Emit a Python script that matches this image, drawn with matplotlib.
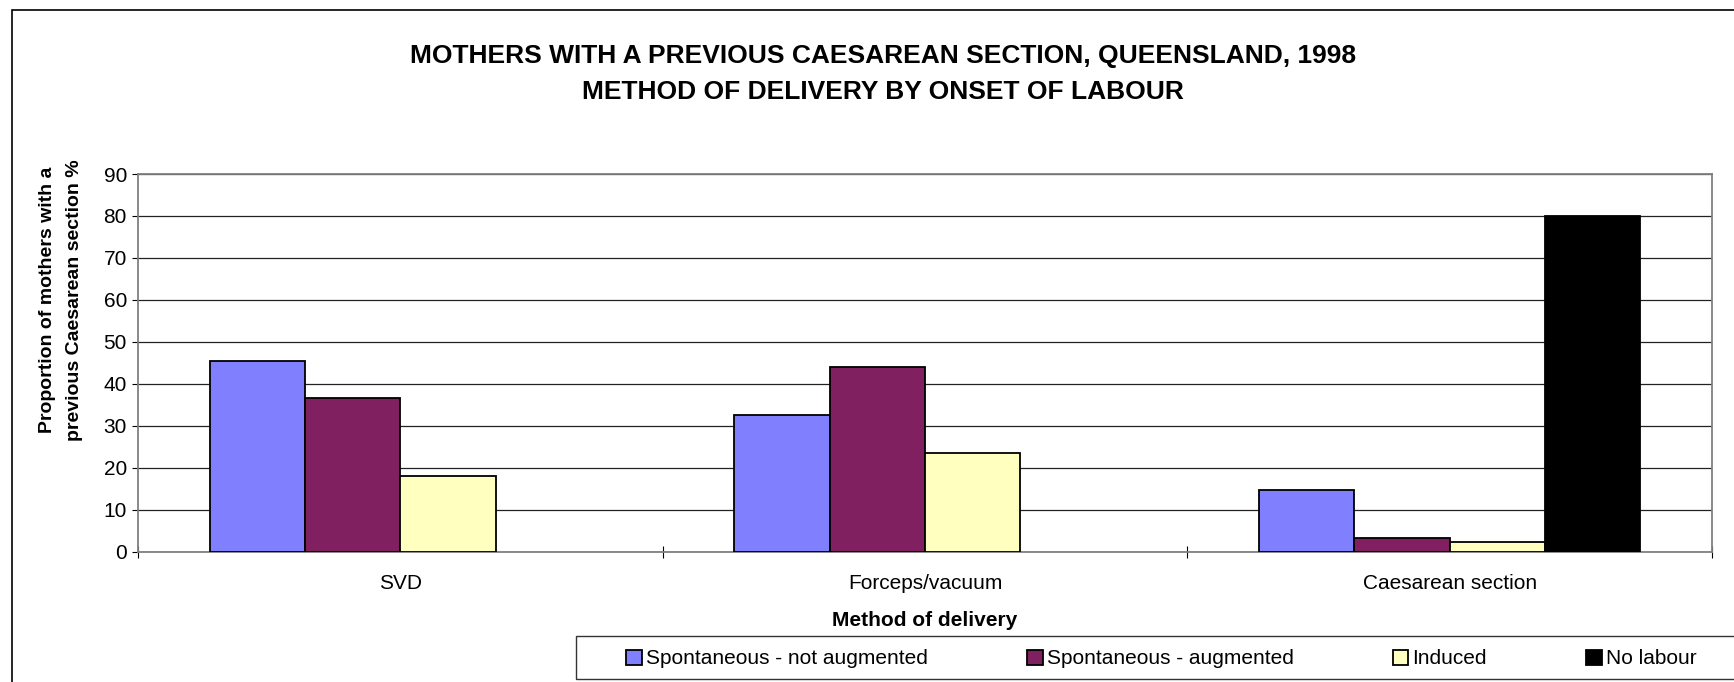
import numpy as np
import matplotlib
matplotlib.use("Agg")
import matplotlib.pyplot as plt
from matplotlib.patches import Rectangle

plt.rcParams['font.family'] = ['Liberation Sans', 'DejaVu Sans']

categories = ["SVD", "Forceps/vacuum", "Caesarean section"]
series_names = ["Spontaneous - not augmented", "Spontaneous - augmented", "Induced", "No labour"]
spont_not_aug = [45.3, 32.5, 14.7]
spont_aug = [36.5, 44.1, 3.3]
induced = [18.0, 23.6, 2.3]
no_labour = [0.0, 0.0, 80.0]
colors = ["#8080FF", "#802060", "#FFFFC0", "#000000"]

W, H = 1734, 682
fig = plt.figure(figsize=(W / 100, H / 100), dpi=100)

# plot area in pixel coordinates of the reference
left, right, top, bottom = 138, 1712, 174, 551.5
ax = fig.add_axes([left / W, 1 - bottom / H, (right - left) / W, (bottom - top) / H])

x = np.arange(len(categories))
width = 0.1816
all_series = [spont_not_aug, spont_aug, induced, no_labour]
for i, vals in enumerate(all_series):
    # zero-height bars are not drawn (as in Excel)
    v = np.array(vals, dtype=float)
    v[v == 0] = np.nan
    ax.bar(x + (i - 1.5) * width, v, width, color=colors[i], edgecolor="black",
           linewidth=1.3, label=series_names[i], zorder=3)

ax.set_xlim(-0.5, 2.5)
ax.set_ylim(0, 90)
ax.set_yticks(np.arange(0, 91, 10))
ax.yaxis.grid(True, color="#222222", linewidth=0.9, zorder=0)
ax.tick_params(axis="y", labelsize=15, length=4, width=0.8, direction="out", pad=4)

ax.set_xticks([-0.5, 0.5, 1.5, 2.5])
ax.set_xticklabels([])
ax.tick_params(axis="x", which="major", length=9, width=0.8, direction="inout")
ax.set_xticks(x, minor=True)
ax.set_xticklabels(categories, minor=True, fontsize=15)
ax.tick_params(axis="x", which="minor", length=0, pad=16)

for s in ax.spines.values():
    s.set_color("#808080")
    s.set_linewidth(1.3)

ax.set_xlabel("Method of delivery", fontsize=15, fontweight="bold", labelpad=13)

fig.text(883 / W, 1 - 74 / H,
         "MOTHERS WITH A PREVIOUS CAESAREAN SECTION, QUEENSLAND, 1998\nMETHOD OF DELIVERY BY ONSET OF LABOUR",
         ha="center", va="center", fontsize=19, fontweight="bold", linespacing=1.6)

fig.text(61 / W, 1 - 300 / H,
         "Proportion of mothers with a\nprevious Caesarean section %",
         rotation=90, ha="center", va="center", fontsize=14, fontweight="bold", linespacing=1.75)

# outer chart frame (cut off at right and bottom)
fig.patches.append(Rectangle((12 / W, -0.2), 1.2, 1.2 - 10 / H, transform=fig.transFigure,
                             fill=False, edgecolor="black", linewidth=1.2))
# legend frame
fig.patches.append(Rectangle((576 / W, 1 - 679 / H), 1.2, 43 / H, transform=fig.transFigure,
                             fill=False, edgecolor="#333333", linewidth=1.0))

handles, labels = ax.get_legend_handles_labels()
leg = fig.legend(handles, labels, loc="center left", bbox_to_anchor=(616 / W, 1 - 659 / H),
                 ncol=4, frameon=False, fontsize=15, handlelength=0.75, handleheight=0.75,
                 handletextpad=0.2, columnspacing=4.75, borderpad=0)

fig.savefig("out.png", dpi=100)
